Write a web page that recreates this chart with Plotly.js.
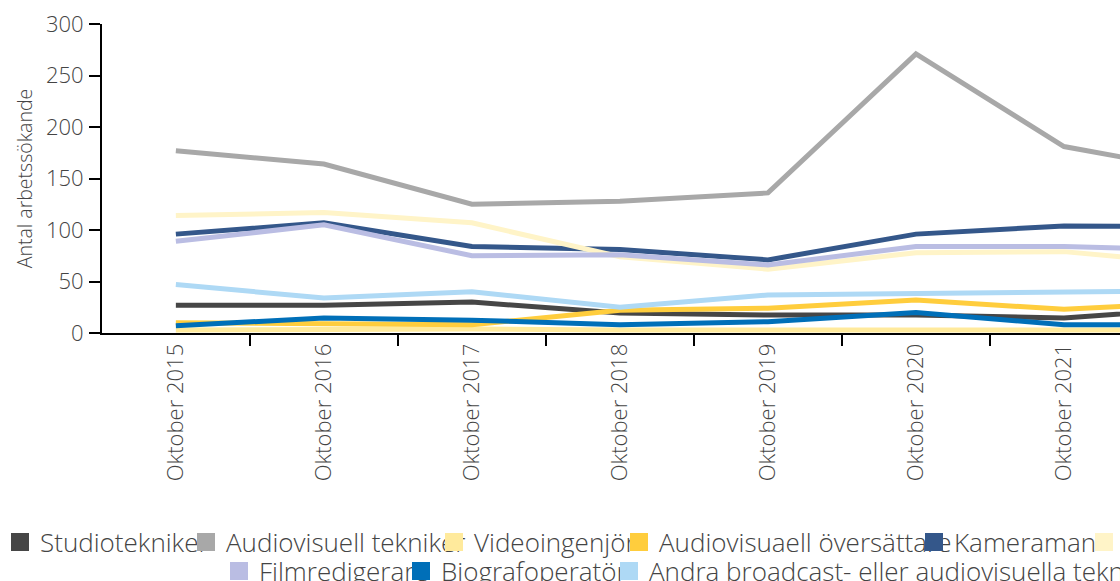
<!DOCTYPE html>
<html>
<head>
<meta charset="utf-8">
<script src="https://cdn.plot.ly/plotly-3.0.1.min.js"></script>
<style>
html,body{margin:0;padding:0;background:#ffffff;overflow:hidden;}
#chart{width:1120px;height:581px;}
</style>
</head>
<body>
<div id="chart"></div>
<script>
// ---- data ----
const categories = ["Oktober 2015","Oktober 2016","Oktober 2017","Oktober 2018","Oktober 2019","Oktober 2020","Oktober 2021","Oktober 2022"];
const seriesNames = ["Studiotekniker","Audiovisuell tekniker","Videoingenjör","Audiovisuaell översättare","Kameraman","Ljudtekniker","Filmredigerare","Biografoperatör","Andra broadcast- eller audiovisuella tekniker"];
const studiotekniker        = [27, 27, 30, 19.5, 17.5, 17.5, 14.5, 25];
const audiovisuellTekniker  = [177, 164, 125, 128, 136, 271, 181, 155];
const videoingenjor         = [3, 4, 4, 3, 3, 4, 3, 3];
const audiovisuellOversattare = [10, 9, 8, 22, 24, 32, 23, 30];
const kameraman             = [96, 107, 84, 81, 71, 96, 104, 103];
const ljudtekniker          = [114, 117, 107, 74, 62, 78, 79, 66];
const filmredigerare        = [89, 105, 75, 76, 66, 84, 84, 80];
const biografoperator       = [7, 14.5, 12.5, 8, 11, 20, 8, 8];
const andraTekniker         = [47, 34, 40, 25, 37, 38, 39, 41];
const yTickValues = [0, 50, 100, 150, 200, 250, 300];
const yAxisTitle = "Antal arbetssökande";

const seriesValues = [studiotekniker, audiovisuellTekniker, videoingenjor, audiovisuellOversattare,
  kameraman, ljudtekniker, filmredigerare, biografoperator, andraTekniker];

// ---- styles ----
const colors = ["#464646","#a8a8a8","#ffea9c","#ffcd3d","#34578a","#fff4c8","#babde3","#006fb8","#aed9f5"];
const FONT = "'Open Sans', sans-serif";
const TEXT = "#444444";
const WEIGHT = 300;
const W = 1120, H = 581;
// legend layout: [swatch left px, row centre px]
const legendPos = [[6,542],[197,542],[445,542],[630,542],[925,542],[1095,542],[230,571],[412,571],[620,571]];

const traces = [];
seriesValues.forEach((vals, i) => {
  traces.push({
    type: "scatter", mode: "lines", x: categories, y: vals, name: seriesNames[i],
    line: {color: colors[i], width: 5}, showlegend: false, hoverinfo: "x+y+name"
  });
});
seriesValues.forEach((vals, i) => {
  traces.push({
    type: "scatter", mode: "markers", x: [null], y: [null], name: seriesNames[i],
    marker: {symbol: "square", size: 16, color: colors[i], line: {color: colors[i], width: 2}},
    showlegend: true, legend: i === 0 ? "legend" : "legend" + (i + 1)
  });
});

const layout = {
  width: W, height: H,
  paper_bgcolor: "#ffffff", plot_bgcolor: "#ffffff",
  margin: {l: 102, r: 0, t: 24, b: 248, autoexpand: false},
  font: {family: FONT, color: TEXT, weight: WEIGHT},
  showlegend: true,
  xaxis: {
    type: "category", range: [-0.499, -0.5 + 1018 / 148],
    showline: true, linecolor: "#000000", linewidth: 2,
    ticks: "outside", tickson: "boundaries", ticklen: 11, tickwidth: 2, tickcolor: "#000000",
    tickangle: -90, tickfont: {family: FONT, size: 22, color: TEXT, weight: WEIGHT},
    showgrid: false, zeroline: false, fixedrange: true
  },
  yaxis: {
    range: [0, 300], tickvals: yTickValues,
    showline: true, linecolor: "#000000", linewidth: 2,
    ticks: "outside", ticklen: 11, tickwidth: 2, tickcolor: "#000000",
    ticklabelstandoff: 1,
    tickfont: {family: FONT, size: 22, color: TEXT, weight: WEIGHT},
    showgrid: false, zeroline: false, fixedrange: true,
    title: {text: yAxisTitle, font: {family: FONT, size: 19.5, color: TEXT, weight: WEIGHT}, standoff: 8}
  }
};
legendPos.forEach((p, i) => {
  const key = i === 0 ? "legend" : "legend" + (i + 1);
  layout[key] = {
    xref: "container", yref: "container",
    x: Math.max(0, p[0] - 11) / W, y: 1 - p[1] / H, xanchor: "left", yanchor: "middle",
    orientation: "h", bgcolor: "rgba(0,0,0,0)", borderwidth: 0,
    font: {family: FONT, size: 26, color: TEXT, weight: WEIGHT}, itemclick: false, itemdoubleclick: false
  };
});

Plotly.newPlot("chart", traces, layout, {displayModeBar: false, staticPlot: true});
</script>
</body>
</html>
